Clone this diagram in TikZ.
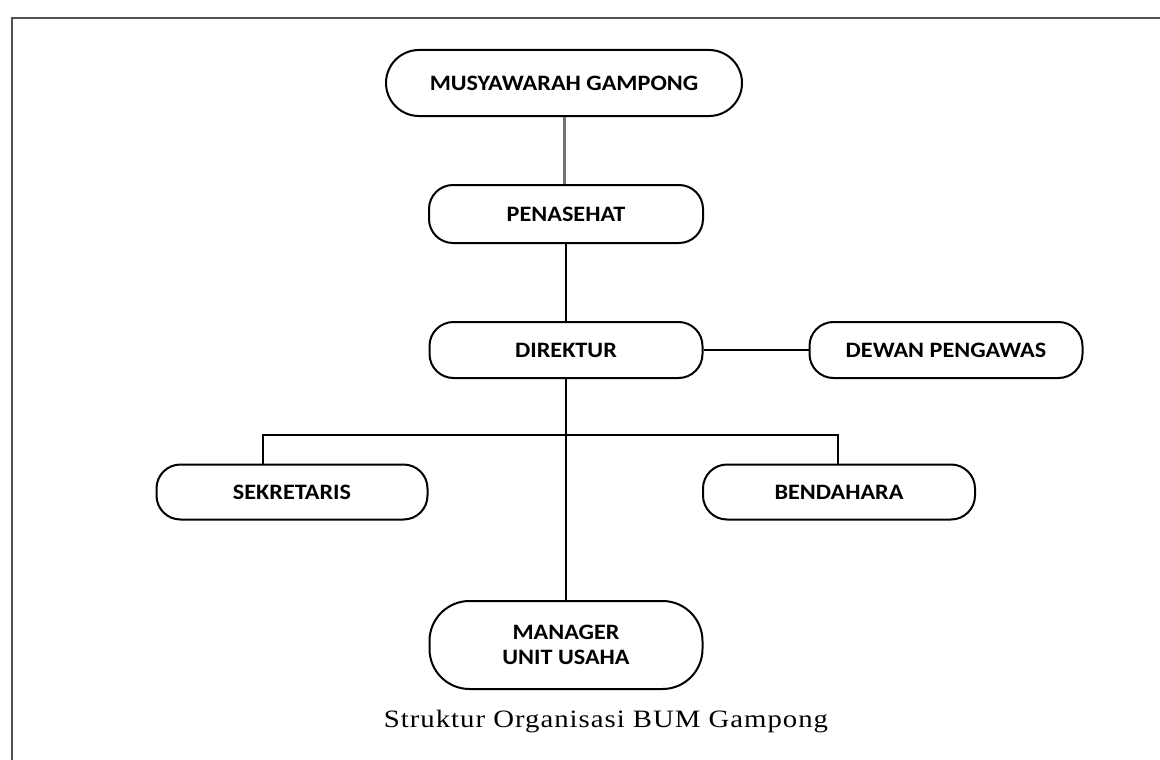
\documentclass[tikz,border=0pt]{standalone}
\usepackage{fontspec}
\setmainfont{Carlito}
\newfontfamily\boxfont[FakeStretch=1.1]{Carlito}
\newfontfamily\capfont[LetterSpace=4,FakeStretch=1.15]{Liberation Serif}
\begin{document}
\begin{tikzpicture}[x=1pt,y=-1pt,
  box/.style={draw=black, line width=2pt, rounded corners=24pt, minimum width=273pt, minimum height=56pt, font=\boxfont\fontsize{22}{25}\selectfont\bfseries, align=center, inner sep=0pt},
  conn/.style={draw=black, line width=1.2pt},
  frameline/.style={draw=black!68, line width=2pt}]
\useasboundingbox (0,0) rectangle (1160,760);
\draw[frameline] (12,762) -- (12,18) -- (1162,18);
\node[box, minimum width=356pt, minimum height=66pt, rounded corners=33pt] (mus) at (564,83) {MUSYAWARAH GAMPONG};
\node[box, minimum width=274pt, minimum height=58pt] (pen) at (566,214) {PENASEHAT};
\node[box] (dir) at (566,350) {DIREKTUR};
\node[box] (dew) at (946,350) {DEWAN PENGAWAS};
\node[box, minimum width=271pt, minimum height=55pt] (sek) at (292,492) {SEKRETARIS};
\node[box, minimum width=272pt, minimum height=55pt] (ben) at (839,492) {BENDAHARA};
\node[box, minimum height=88pt, rounded corners=40pt] (man) at (566,645) {MANAGER\\UNIT USAHA};
\node[font=\capfont\fontsize{25}{28}\selectfont] (cap) at (606,722) {Struktur Organisasi BUM Gampong};
\draw[draw=black!55, line width=3pt] (mus.south) -- (mus.south |- pen.north);
\draw[conn] (pen.south) -- (dir.north);
\draw[conn] (dir.east) -- (dew.west);
\draw[conn] (dir.south) -- (man.north);
\coordinate (hl) at (263,435);
\coordinate (hr) at (838,435);
\draw[conn] (sek.north -| hl) -- (hl) -- (hr) -- (ben.north -| hr);
\end{tikzpicture}
\end{document}
